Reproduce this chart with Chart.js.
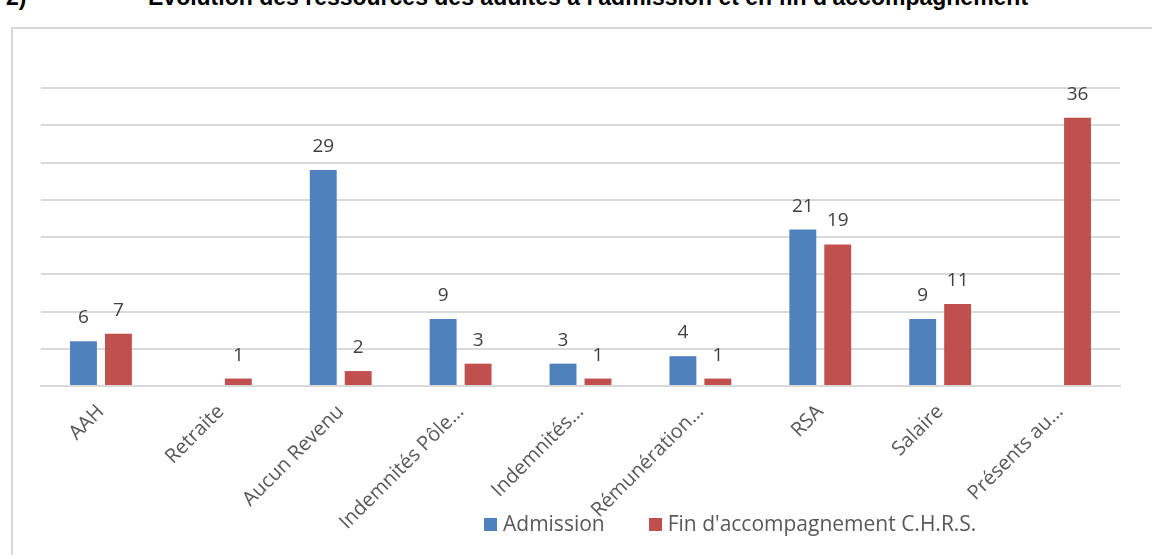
<!DOCTYPE html>
<html>
<head>
<meta charset="utf-8">
<style>
  body { margin: 0; background: #fff; width: 1152px; height: 555px; overflow: hidden; position: relative; font-family: "Open Sans", sans-serif; }
  #title { position: absolute; left: 0; top: -14px; height: 23px; line-height: 23px; font: bold 23px/23px "Liberation Sans Narrow", "Liberation Sans", Arial, sans-serif; color: #000; white-space: nowrap; }
  #title .num { position: absolute; left: 6px; }
  #title .txt { position: absolute; left: 148px; }
  #box { position: absolute; left: 11px; top: 27px; width: 1200px; height: 600px; border: 2px solid #d9d9d9; }
  #wrap { position: absolute; left: 0; top: 0; width: 1152px; height: 555px; }
  #legend { position: absolute; top: 509px; left: 484px; font-size: 21px; color: #595959; white-space: nowrap; }
  #legend span.sw { display: inline-block; width: 13px; height: 13px; margin-right: 6px; vertical-align: 0px; }
  #legend span.item { margin-right: 44px; }
</style>
<script src="https://cdn.jsdelivr.net/npm/chart.js@4.4.0/dist/chart.umd.min.js"></script>
</head>
<body>
<div id="title"><span class="num">2)</span><span class="txt">Évolution des ressources des adultes à l'admission et en fin d'accompagnement</span></div>
<div id="box"></div>
<div id="wrap"><canvas id="myChart" width="1152" height="555"></canvas></div>
<div id="legend"></div>
<script>
var categories = ['AAH', 'Retraite', 'Aucun Revenu', 'Indemnités Pôle…', 'Indemnités…', 'Rémunération…', 'RSA', 'Salaire', 'Présents au…'];
var admission = [6, null, 29, 9, 3, 4, 21, 9, null];
var finAccomp = [7, 1, 2, 3, 1, 1, 19, 11, 36];
var seriesNames = ['Admission', "Fin d'accompagnement C.H.R.S."];
var seriesColors = ['#4F81BD', '#C0504D'];

// value labels above each bar
var barLabels = {
  id: 'barLabels',
  afterDatasetsDraw: function(chart) {
    var ctx = chart.ctx;
    ctx.save();
    ctx.font = '19px "Open Sans", sans-serif';
    ctx.fillStyle = '#404040';
    ctx.textAlign = 'center';
    ctx.textBaseline = 'alphabetic';
    chart.data.datasets.forEach(function(ds, i) {
      chart.getDatasetMeta(i).data.forEach(function(bar, j) {
        if (ds.data[j] == null) return;
        ctx.fillText(ds.data[j], bar.x, bar.y - 18);
      });
    });
    ctx.restore();
  }
};

document.addEventListener('DOMContentLoaded', function () {
  var legend = document.getElementById('legend');
  seriesNames.forEach(function(n, i) {
    legend.innerHTML += '<span class="item"><span class="sw" style="background:' + seriesColors[i] + '"></span>' + n + '</span>';
  });

  new Chart(document.getElementById('myChart'), {
    type: 'bar',
    data: {
      labels: categories,
      datasets: [{
        label: seriesNames[0],
        data: admission,
        backgroundColor: seriesColors[0],
        categoryPercentage: 0.583,
        barPercentage: 0.77
      }, {
        label: seriesNames[1],
        data: finAccomp,
        backgroundColor: seriesColors[1],
        categoryPercentage: 0.583,
        barPercentage: 0.77
      }]
    },
    options: {
      responsive: false,
      animation: false,
      layout: { padding: { left: 41, right: 32, top: 88, bottom: 0 } },
      plugins: { legend: { display: false }, tooltip: { enabled: false } },
      scales: {
        x: {
          afterFit: function(s) { s.height = 169; },
          grid: { display: false },
          border: { color: '#d9d9d9', width: 2 },
          ticks: {
            minRotation: 45, maxRotation: 45, autoSkip: false, padding: 6,
            color: '#595959',
            font: { family: '"Open Sans", sans-serif', size: 20 }
          }
        },
        y: {
          min: 0, max: 40,
          afterFit: function(s) { s.width = 0; },
          ticks: { display: false, stepSize: 5 },
          border: { display: false },
          grid: { color: '#d9d9d9', lineWidth: 2, drawTicks: false }
        }
      }
    },
    plugins: [barLabels]
  });
});
</script>
</body>
</html>
